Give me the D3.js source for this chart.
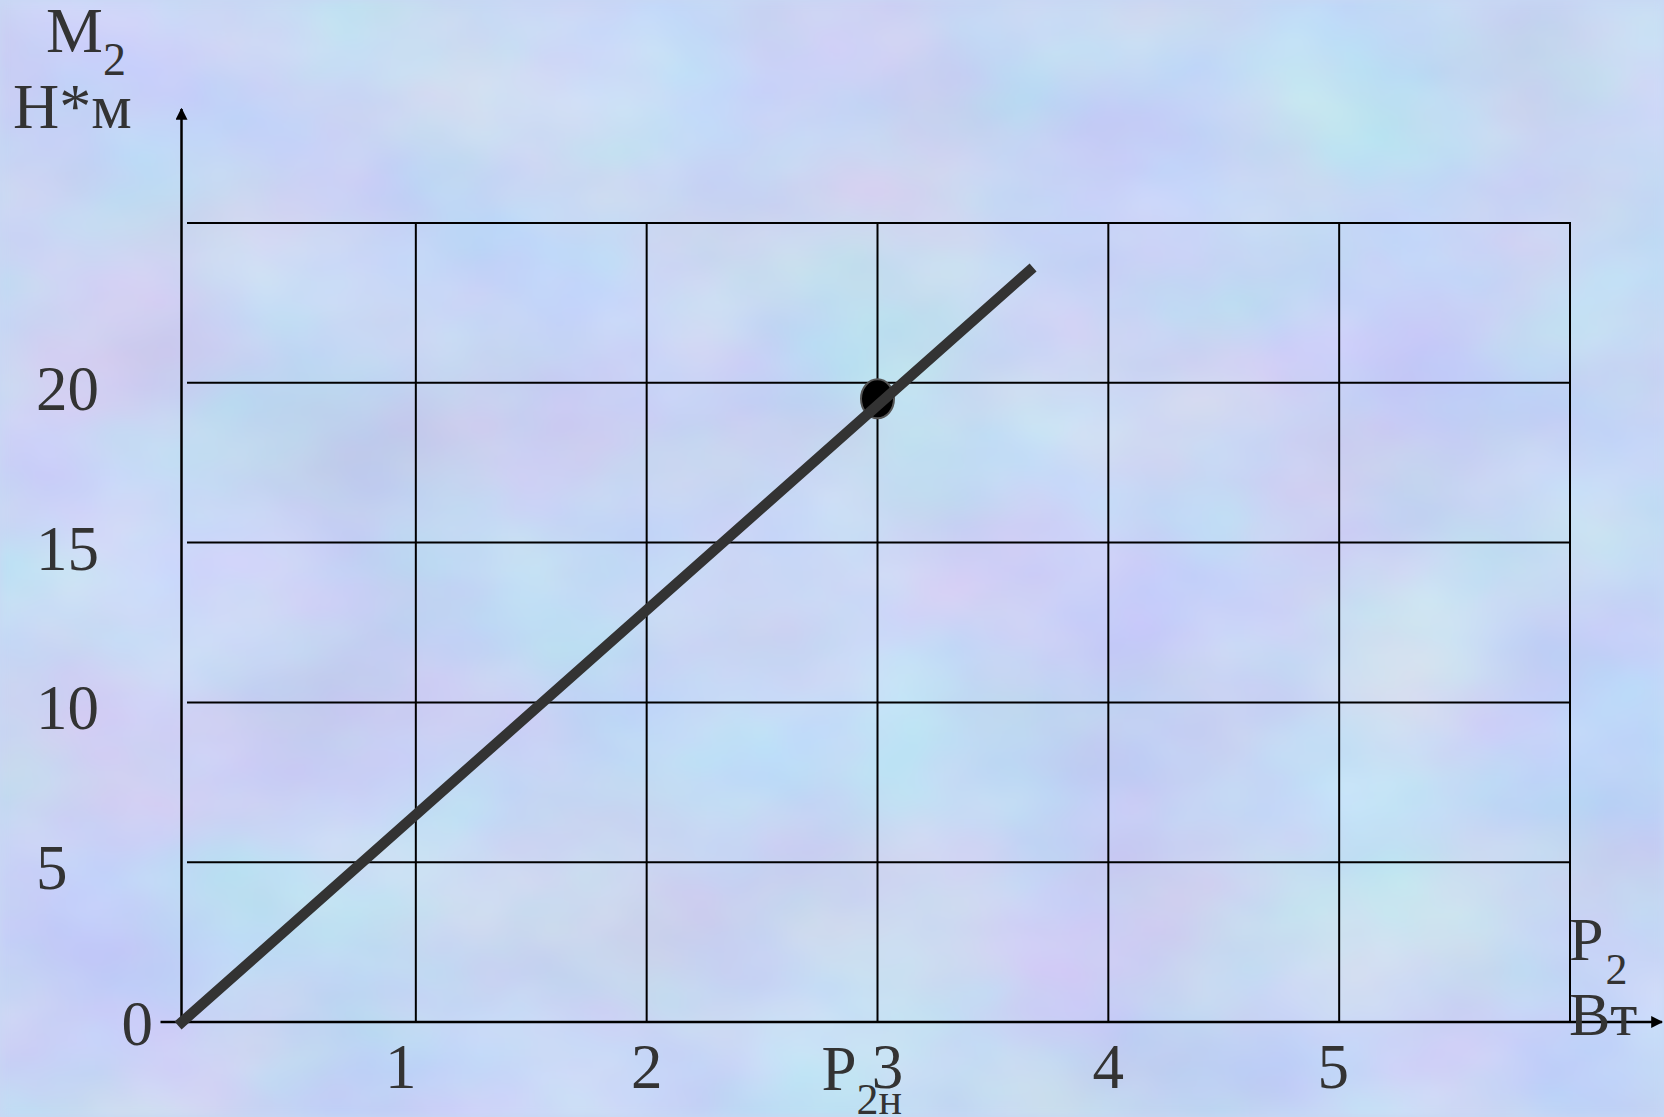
<!DOCTYPE html>
<html>
<head>
<meta charset="utf-8">
<script src="https://cdn.jsdelivr.net/npm/d3@7"></script>
<style>
  html, body { margin: 0; padding: 0; overflow: hidden; }
  svg { display: block; }
  text { font-family: "Liberation Serif", "Times New Roman", serif; fill: #333; }
</style>
</head>
<body>
<svg id="chart" width="1664" height="1117"></svg>
<script>
// ---- data ----
const xTickValues = [1, 2, 3, 4, 5];
const xGridValues = [1, 2, 3, 4, 5, 6];
const yTickValues = [5, 10, 15, 20];
const yGridValues = [5, 10, 15, 20, 25];
const lineP2 = [0, 3.67];     // P2, W
const lineM2 = [0, 23.5];     // M2, N*m
const ratedP2 = [3];
const ratedM2 = [19.5];

const W = 1664, H = 1117;
const svg = d3.select("#chart");

// background texture
const defs = svg.append("defs");
const f = defs.append("filter").attr("id", "tex").attr("x", 0).attr("y", 0)
  .attr("width", "100%").attr("height", "100%")
  .attr("color-interpolation-filters", "sRGB");
f.append("feTurbulence").attr("type", "fractalNoise").attr("baseFrequency", "0.004 0.006")
  .attr("numOctaves", 4).attr("seed", 7).attr("result", "n");
f.append("feColorMatrix").attr("in", "n").attr("type", "matrix")
  .attr("values", "0.19 0 0 0 0.685  0 0.17 0 0 0.755  0 0 0.08 0 0.915  0 0 0 0 1").attr("result", "c");
f.append("feGaussianBlur").attr("in", "c").attr("stdDeviation", 4);
svg.append("rect").attr("width", W).attr("height", H).attr("fill", "#c9d8f5");
svg.append("rect").attr("width", W).attr("height", H).attr("filter", "url(#tex)");

// ---- scales ----
const x = d3.scaleLinear().domain([0, 6]).range([185, 1570]);
const y = d3.scaleLinear().domain([0, 25]).range([1022, 223]);
const axisX = x(0) - 3.5;

// grid
const g = svg.append("g");
g.selectAll("line.v").data(xGridValues).join("line").attr("class", "v")
  .attr("x1", d => x(d)).attr("x2", d => x(d))
  .attr("y1", y(25)).attr("y2", y(0))
  .attr("stroke", "#000").attr("stroke-width", 2);
g.selectAll("line.h").data(yGridValues).join("line").attr("class", "h")
  .attr("x1", x(0) + 2).attr("x2", x(6) + 1)
  .attr("y1", d => y(d)).attr("y2", d => y(d))
  .attr("stroke", "#000").attr("stroke-width", 2);

// axes with arrows
defs.append("marker").attr("id", "arr").attr("viewBox", "0 0 10 10")
  .attr("refX", 9).attr("refY", 5).attr("markerWidth", 12).attr("markerHeight", 12)
  .attr("markerUnits", "userSpaceOnUse").attr("orient", "auto")
  .append("path").attr("d", "M0,0 L10,5 L0,10 Z").attr("fill", "#000");

svg.append("line").attr("x1", axisX - 21).attr("x2", 1662).attr("y1", y(0)).attr("y2", y(0))
  .attr("stroke", "#000").attr("stroke-width", 2.5).attr("marker-end", "url(#arr)");
svg.append("line").attr("x1", axisX).attr("x2", axisX).attr("y1", y(0)).attr("y2", 109)
  .attr("stroke", "#000").attr("stroke-width", 2.5).attr("marker-end", "url(#arr)");

// tick labels
svg.selectAll("text.yt").data(yTickValues).join("text").attr("class", "yt")
  .attr("x", 36).attr("y", d => y(d) + 27).attr("font-size", 63).text(d => d);
svg.append("text").attr("x", 153).attr("y", y(0) + 23).attr("text-anchor", "end")
  .attr("font-size", 63).text("0");
svg.selectAll("text.xt").data(xTickValues).join("text").attr("class", "xt")
  .attr("x", d => x(d) + (d === 1 ? -15 : d === 3 ? 10 : d === 5 ? -6 : 0)).attr("y", y(0) + 66)
  .attr("text-anchor", "middle").attr("font-size", 63).text(d => d);

// axis titles
const t1 = svg.append("text").attr("x", 46).attr("y", 52).attr("font-size", 64);
t1.append("tspan").text("M");
t1.append("tspan").attr("dy", 23).attr("font-size", 46).text("2");
svg.append("text").attr("x", 13).attr("y", 128).attr("font-size", 64).text("Н*м");

const t2 = svg.append("text").attr("x", 1569).attr("y", 960).attr("font-size", 62);
t2.append("tspan").text("P");
t2.append("tspan").attr("dy", 24).attr("dx", 2).attr("font-size", 44).text("2");
svg.append("text").attr("x", 1569).attr("y", 1035).attr("font-size", 62).text("Вт");

const t3 = svg.append("text").attr("x", x(3) - 56).attr("y", 1090).attr("font-size", 63);
t3.append("tspan").text("P");
t3.append("tspan").attr("dy", 24).attr("font-size", 44).text("2н");

// rated point
svg.selectAll("ellipse.pt").data(ratedP2).join("ellipse").attr("class", "pt")
  .attr("cx", d => x(d)).attr("cy", (d, i) => y(ratedM2[i]))
  .attr("rx", 16.5).attr("ry", 19.5)
  .attr("fill", "#000").attr("stroke", "#555").attr("stroke-width", 2);

// characteristic line
const pts = lineP2.map((p, i) => [p, lineM2[i]]);
svg.append("path").datum(pts)
  .attr("d", d3.line().x(d => x(d[0]) - 3).y(d => y(d[1])))
  .attr("stroke", "#333").attr("stroke-width", 10.5).attr("fill", "none")
  .attr("stroke-linecap", "square");
</script>
</body>
</html>
